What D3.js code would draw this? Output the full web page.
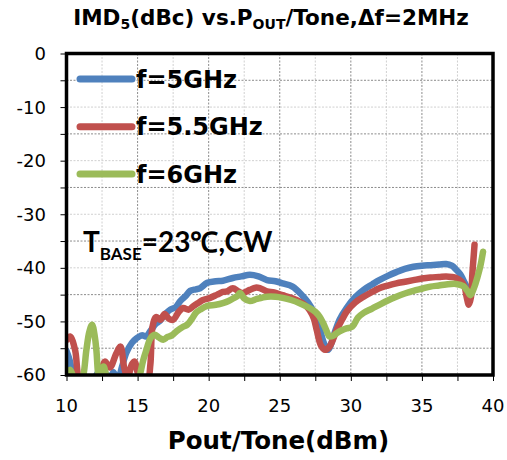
<!DOCTYPE html>
<html><head><meta charset="utf-8">
<script src="https://cdn.jsdelivr.net/npm/d3@7"></script>
<style>body{margin:0;background:#fff}svg{display:block}</style>
</head><body>
<svg id="c" width="507" height="460"></svg>
<script>
const xTicks = [10,15,20,25,30,35,40];
const yTicks = [0,-10,-20,-30,-40,-50,-60];
const seriesNames = ["f=5GHz","f=5.5GHz","f=6GHz"];
const seriesColors = ["#4F81BD","#C0504D","#9BBB59"];

const blue = [[10.0,-55.5],[10.25,-57.5],[10.5,-61],[11.0,-63],[11.5,-62],[12.0,-60.5],[12.3,-59.3],[12.7,-59.5],[13.0,-61],[13.3,-59.5],[13.6,-61],[13.9,-58.5],[14.2,-55.9],[14.6,-54.0],[14.9,-53.2],[15.3,-52.6],[15.6,-52.8],[15.9,-51.8],[16.3,-50.4],[16.6,-49.8],[17.0,-48.5],[17.3,-47.8],[17.7,-47.3],[18.0,-46.2],[18.4,-45.2],[18.7,-44.3],[19.1,-44.0],[19.4,-43.8],[19.9,-42.8],[20.5,-42.5],[21.0,-42.4],[21.7,-41.9],[22.3,-41.6],[22.9,-41.3],[23.5,-41.6],[24.1,-42.3],[24.7,-42.5],[25.2,-42.9],[25.9,-43.5],[26.6,-45.2],[27.0,-46.5],[27.4,-48.3],[27.8,-51.2],[28.1,-54.0],[28.4,-55.3],[28.6,-54.3],[28.9,-51.8],[29.2,-49.7],[29.7,-47.5],[30.3,-45.5],[30.9,-44.1],[31.5,-43.1],[32.0,-42.3],[32.6,-41.5],[33.2,-40.8],[33.8,-40.2],[34.4,-39.8],[35.0,-39.6],[35.6,-39.5],[36.2,-39.4],[36.7,-39.3],[37.1,-39.6],[37.4,-40.3],[37.7,-41.2],[37.9,-42.2],[38.2,-43.8],[38.3,-44.2]];

const red = [[10.0,-53.5],[10.25,-52.8],[10.6,-55.3],[10.8,-60],[11.0,-62],[11.5,-63],[12.0,-62],[12.4,-60],[12.7,-57.5],[13.05,-58.6],[13.5,-56],[13.8,-54.7],[14.05,-58.5],[14.3,-60.5],[14.6,-58],[14.8,-57.5],[15.0,-59.5],[15.3,-61],[15.7,-61],[15.9,-58],[16.05,-51],[16.3,-49.2],[16.6,-49.7],[16.9,-48.6],[17.2,-49.5],[17.5,-49.7],[17.9,-48.2],[18.2,-47.5],[18.6,-47.8],[18.9,-47.2],[19.3,-46.5],[19.6,-46],[20.1,-45.6],[20.6,-45.0],[21.0,-44.5],[21.3,-44.4],[21.7,-43.8],[22.1,-44.4],[22.4,-44.7],[22.9,-44.1],[23.3,-43.7],[23.6,-43.8],[24.1,-44.4],[24.6,-44.6],[25.2,-45.1],[25.8,-45.6],[26.4,-46.3],[26.8,-47.0],[27.1,-47.9],[27.4,-49.5],[27.6,-51.6],[27.9,-54.5],[28.2,-55.3],[28.5,-54.7],[28.8,-53],[29.0,-51.6],[29.4,-49.6],[29.7,-48.2],[30.3,-46.5],[30.9,-45.4],[31.5,-44.5],[32.0,-43.8],[32.6,-43.3],[33.2,-42.9],[33.8,-42.6],[34.4,-42.3],[35.0,-42.0],[35.6,-41.8],[36.2,-41.7],[36.7,-41.6],[37.1,-41.7],[37.4,-41.9],[37.8,-42.6],[38.0,-43.5],[38.15,-45.5],[38.3,-46.9],[38.45,-45.5],[38.55,-41],[38.65,-37.5],[38.7,-35.7]];

const green = [[10.0,-60.2],[10.25,-59],[10.5,-60.5],[10.8,-62],[11.1,-61],[11.4,-55.3],[11.6,-52],[11.8,-50.6],[12.0,-53],[12.1,-55.3],[12.3,-60.5],[12.6,-58.4],[12.9,-61],[13.5,-63],[14.5,-63],[15.0,-62],[15.2,-59.6],[15.4,-57.2],[15.6,-55.5],[15.9,-53.2],[16.2,-52.5],[16.5,-53],[16.8,-53.4],[17.1,-52.9],[17.4,-52.6],[17.75,-51.8],[18.2,-51],[18.5,-50.6],[18.8,-49.6],[19.1,-48.4],[19.4,-47.8],[19.9,-47.1],[20.5,-46.9],[21.0,-46.6],[21.4,-46.2],[21.8,-45.6],[22.0,-45.3],[22.2,-44.7],[22.5,-45.7],[22.9,-46.2],[23.4,-45.8],[24.1,-45.4],[24.7,-45.4],[25.2,-45.6],[25.8,-46.0],[26.4,-46.6],[27.1,-47.5],[27.5,-48.2],[27.8,-49.1],[28.05,-50.3],[28.3,-51.8],[28.5,-52.8],[28.8,-52.6],[29.0,-52.2],[29.4,-51.6],[29.7,-51.3],[30.1,-51],[30.5,-49.3],[30.9,-48.4],[31.5,-47.6],[32.0,-46.9],[32.6,-46.1],[33.2,-45.4],[33.8,-44.8],[34.4,-44.3],[35.0,-43.9],[35.6,-43.5],[36.2,-43.3],[36.7,-43.1],[37.4,-43.0],[37.9,-43.4],[38.2,-44.3],[38.4,-45.1],[38.7,-43.5],[38.9,-41.8],[39.1,-39.8],[39.3,-37]];

const seriesData = [blue, red, green];

const svg = d3.select("#c");
const x = d3.scaleLinear().domain([10,40]).range([66.5,493]);
const y = d3.scaleLinear().domain([-60,0]).range([375,53.5]);

// grid
const g = svg.append("g");
d3.range(12.5,40,2.5).forEach(v=>{
  const major = Math.abs(v%5)<1e-6;
  g.append("line").attr("x1",x(v)).attr("x2",x(v)).attr("y1",y(0)).attr("y2",y(-60))
   .attr("stroke",major?"#8c8c8c":"#d0d0d0").attr("stroke-width",1).attr("stroke-dasharray","2,1.5");
});
d3.range(-55,0,5).forEach(v=>{
  const odd = Math.abs(v%10)>1e-6;
  g.append("line").attr("x1",x(10)).attr("x2",x(40)).attr("y1",y(v)).attr("y2",y(v))
   .attr("stroke",odd?"#8c8c8c":"#d0d0d0").attr("stroke-width",1).attr("stroke-dasharray","2,1.5");
});

// ticks
const xAxis = d3.axisBottom(x).tickValues(d3.range(10,40.01,2.5)).tickSize(6).tickFormat("");
svg.append("g").attr("transform",`translate(0,${y(-60)})`).call(xAxis)
  .call(s=>{s.select(".domain").remove(); s.selectAll("line").attr("stroke","#000").attr("stroke-width",1);});
const yAxis = d3.axisLeft(y).tickValues(d3.range(-60,0.01,5)).tickSize(6).tickFormat("");
svg.append("g").attr("transform",`translate(${x(10)},0)`).call(yAxis)
  .call(s=>{s.select(".domain").remove(); s.selectAll("line").attr("stroke","#000").attr("stroke-width",1);});

// tick labels
svg.append("g").selectAll("text").data(xTicks).join("text")
  .attr("x",d=>x(d)).attr("y",412).attr("text-anchor","middle")
  .attr("font-family","DejaVu Sans, Verdana, sans-serif").attr("font-size",18).text(d=>d);
svg.append("g").selectAll("text").data(yTicks).join("text")
  .attr("x",46).attr("y",d=>y(d)).attr("dy","0.36em").attr("text-anchor","end")
  .attr("font-family","DejaVu Sans, Verdana, sans-serif").attr("font-size",18).text(d=>d);

// clip
svg.append("clipPath").attr("id","clip").append("rect")
  .attr("x",x(10)).attr("y",y(0)).attr("width",x(40)-x(10)).attr("height",y(-60)-y(0));

const line = d3.line().x(d=>x(d[0])).y(d=>y(d[1])).curve(d3.curveCatmullRom.alpha(0.5));
svg.append("g").attr("clip-path","url(#clip)").selectAll("path").data(seriesData).join("path")
  .attr("d",line).attr("fill","none").attr("stroke",(d,i)=>seriesColors[i])
  .attr("stroke-width",6.5).attr("stroke-linejoin","round").attr("stroke-linecap","round");

// frame
svg.append("rect").attr("x",x(10)).attr("y",y(0)).attr("width",x(40)-x(10)).attr("height",y(-60)-y(0))
  .attr("fill","none").attr("stroke","#000").attr("stroke-width",3.5);

// legend
const legY = [79,126.7,174];
seriesNames.forEach((n,i)=>{
  svg.append("line").attr("x1",80).attr("x2",132).attr("y1",legY[i]).attr("y2",legY[i])
    .attr("stroke",seriesColors[i]).attr("stroke-width",7).attr("stroke-linecap","round");
  svg.append("text").attr("x",136).attr("y",legY[i]+8.5).attr("font-family","DejaVu Sans, Verdana, sans-serif")
    .attr("font-weight","bold").attr("font-size",24).text(n);
});

// annotation
const ann = svg.append("text").attr("x",83).attr("y",252).attr("font-family","Lato, 'Open Sans', sans-serif")
  .attr("font-weight","bold").attr("font-size",28);
ann.append("tspan").text("T");
ann.append("tspan").attr("font-size",17).attr("dy",8).text("BASE");
ann.append("tspan").attr("dy",-8).text("=23℃,CW");

// title
const t = svg.append("text").attr("x",271).attr("y",25).attr("text-anchor","middle")
  .attr("font-family","DejaVu Sans, Verdana, sans-serif").attr("font-weight","bold").attr("font-size",21.5);
t.append("tspan").text("IMD");
t.append("tspan").attr("font-size",14).attr("dy",4).text("5");
t.append("tspan").attr("dy",-4).text("(dBc) vs.P");
t.append("tspan").attr("font-size",14).attr("dy",4).text("OUT");
t.append("tspan").attr("dy",-4).text("/Tone,Δf=2MHz");

// x title
svg.append("text").attr("x",278.5).attr("y",449).attr("text-anchor","middle")
  .attr("font-family","DejaVu Sans, Verdana, sans-serif").attr("font-weight","bold").attr("font-size",24.5)
  .text("Pout/Tone(dBm)");
</script>
</body></html>
